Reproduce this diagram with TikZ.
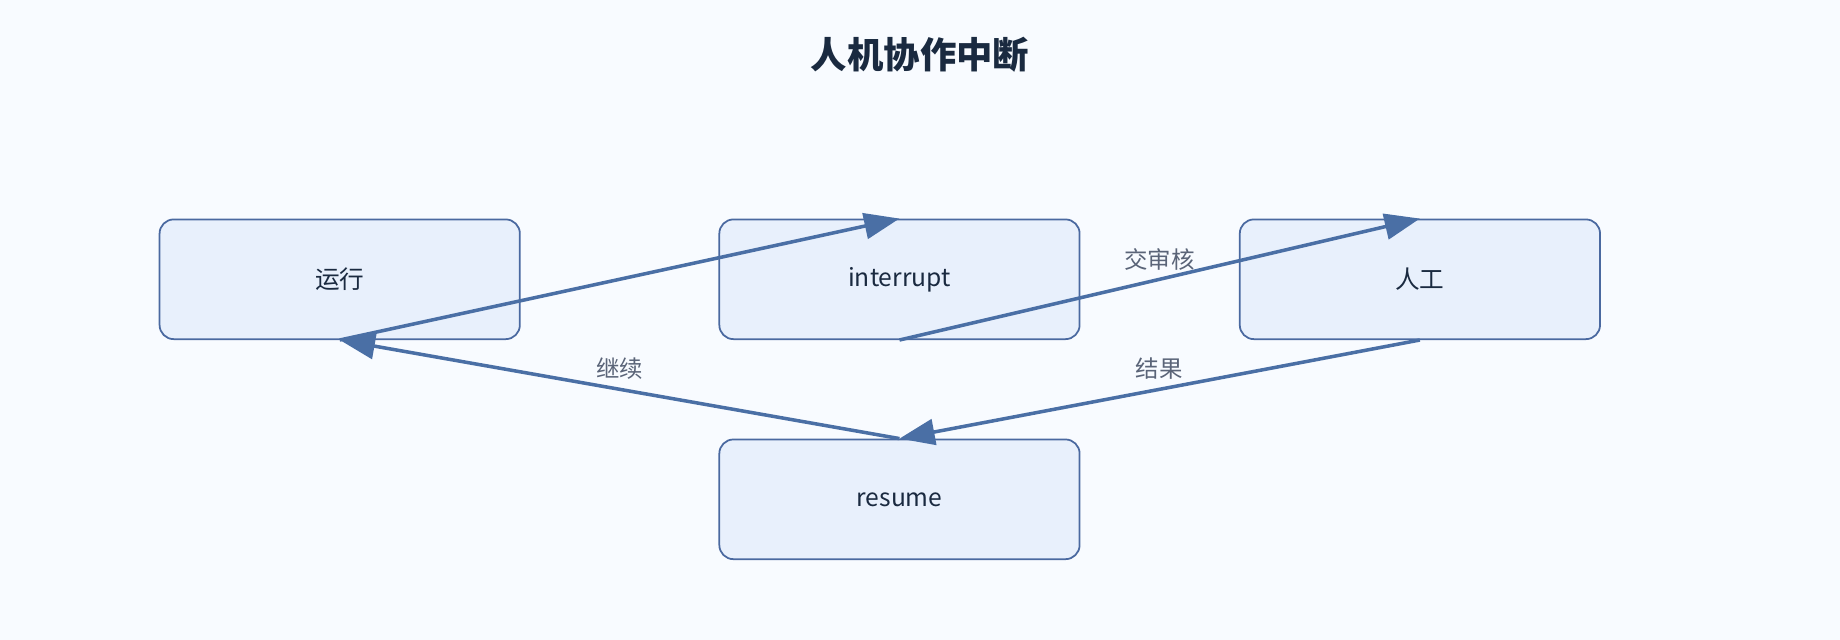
\documentclass[tikz,border=0pt]{standalone}
\usepackage{fontspec}
\setmainfont{Noto Sans CJK SC}
\usetikzlibrary{arrows.meta}
\definecolor{bg}{HTML}{F8FBFF}
\definecolor{nfill}{HTML}{E8F0FC}
\definecolor{nline}{HTML}{4A69A0}
\definecolor{edge}{HTML}{4A6FA5}
\definecolor{txt}{HTML}{1A2A40}
\definecolor{lbl}{HTML}{5A6478}
\begin{document}
\begin{tikzpicture}[x=0.5pt,y=-0.5pt,
  box/.style={draw=nline,fill=nfill,line width=0.75pt,rounded corners=6pt,minimum width=153.5pt,minimum height=51pt,inner sep=0pt,text=txt,font=\fontsize{10.5}{12}\selectfont},
  arr/.style={draw=edge,line width=1.5pt,-{Triangle[length=15pt,width=11pt]}},
  lab/.style={text=lbl,font=\fontsize{10}{12}\selectfont}]
\fill[bg] (0,0) rectangle (1568,545);
\useasboundingbox (0,0) rectangle (1568,545);
\node[text=txt,font=\fontsize{15.5}{18}\selectfont\bfseries] (title) at (784,47) {人机协作中断};
\node[box] (run) at (289.5,238) {运行};
\node[box] (int) at (766.5,238) {interrupt};
\node[box] (hum) at (1210,238) {人工};
\node[box] (res) at (766.5,425.5) {resume};
\draw[arr] (run.south) -- (int.north);
\draw[arr] (int.south) -- (hum.north);
\draw[arr] (hum.south) -- (res.north);
\draw[arr] (res.north) -- (run.south);
\node[lab] (l1) at (988,221) {交审核};
\node[lab] (l2) at (988,314) {结果};
\node[lab] (l3) at (528,314) {继续};
\end{tikzpicture}
\end{document}
